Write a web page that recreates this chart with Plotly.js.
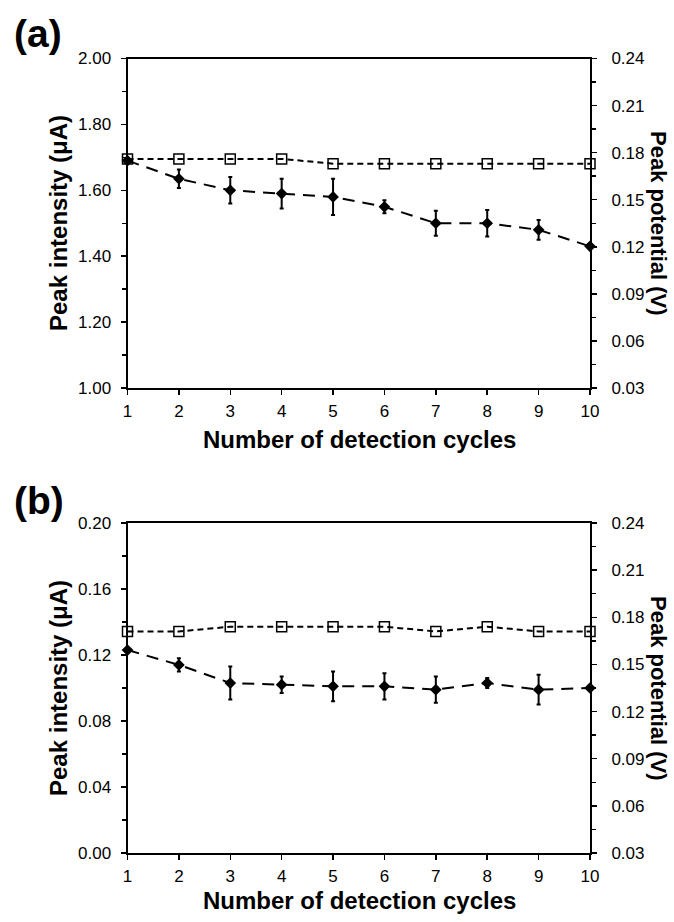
<!DOCTYPE html>
<html>
<head>
<meta charset="utf-8">
<script src="https://cdn.plot.ly/plotly-3.0.1.min.js"></script>
<style>html,body{margin:0;padding:0;background:#fff;}#chart{width:674px;height:922px;}</style>
</head>
<body>
<div id="chart"></div>
<script>
// ---- data ----
const cycles = [1, 2, 3, 4, 5, 6, 7, 8, 9, 10];
const currentA = [1.69, 1.635, 1.60, 1.59, 1.58, 1.55, 1.50, 1.50, 1.48, 1.43];
const currentAErr = [0, 0.028, 0.04, 0.045, 0.055, 0.02, 0.038, 0.04, 0.03, 0];
const potentialA = [0.176, 0.176, 0.176, 0.176, 0.173, 0.173, 0.173, 0.173, 0.173, 0.173];
const currentB = [0.123, 0.114, 0.103, 0.102, 0.101, 0.101, 0.099, 0.103, 0.099, 0.100];
const currentBErr = [0, 0.004, 0.010, 0.005, 0.009, 0.008, 0.008, 0.003, 0.009, 0];
const potentialB = [0.171, 0.171, 0.174, 0.174, 0.174, 0.174, 0.171, 0.174, 0.171, 0.171];

const W = 674, H = 922;
const px = x => x / W;
const py = y => 1 - y / H;
const FONT = "Liberation Sans, Arial, sans-serif";

function currentTrace(y, err, xa, ya) {
  return {
    x: cycles, y: y, xaxis: xa, yaxis: ya, type: 'scatter', mode: 'lines+markers',
    line: {color: '#000', width: 2, dash: '12px,8px'},
    marker: {symbol: 'diamond', size: 9, color: '#000'},
    error_y: {type: 'data', array: err, visible: true, color: '#000', thickness: 2, width: 2},
    cliponaxis: false, showlegend: false
  };
}
function potentialTrace(y, xa, ya) {
  return {
    x: cycles, y: y, xaxis: xa, yaxis: ya, type: 'scatter', mode: 'lines+markers',
    line: {color: '#000', width: 2, dash: '6px,4px'},
    marker: {symbol: 'square-open', size: 10, color: '#000', line: {width: 1.5, color: '#000'}},
    cliponaxis: false, showlegend: false
  };
}

const data = [
  potentialTrace(potentialA, 'x', 'y2'),
  currentTrace(currentA, currentAErr, 'x', 'y'),
  potentialTrace(potentialB, 'x2', 'y4'),
  currentTrace(currentB, currentBErr, 'x2', 'y3')
];

const tickFont = {family: FONT, size: 17, color: '#000'};
const xCommon = {
  range: [1, 10], tickmode: 'array', tickvals: cycles, ticktext: cycles.map(String),
  showline: true, linecolor: '#000', linewidth: 2, mirror: true,
  ticks: 'outside', ticklen: 5, tickwidth: 1.5, tickcolor: '#000',
  showgrid: false, zeroline: false, tickfont: tickFont, fixedrange: true, ticklabelstandoff: 2
};
const xDomain = [px(127.5), px(590)];
const domA = [py(388), py(58.5)];
const domB = [py(853), py(523)];

function leftAxis(range, dtick, minorDtick, domain, anchor) {
  return {
    range: range, dtick: dtick, tick0: range[0], tickformat: '.2f', domain: domain, anchor: anchor,
    showline: true, linecolor: '#000', linewidth: 2,
    ticks: 'outside', ticklen: 5, tickwidth: 1.5, tickcolor: '#000',
    minor: {dtick: minorDtick, ticks: 'outside', ticklen: 4, tickwidth: 1.5, tickcolor: '#000', showgrid: false},
    showgrid: false, zeroline: false, tickfont: tickFont, fixedrange: true, ticklabelstandoff: 6
  };
}
function rightAxis(overlay, anchor) {
  return {
    range: [0.03, 0.24], dtick: 0.03, tick0: 0.03, tickformat: '.2f', overlaying: overlay, side: 'right', anchor: anchor,
    showline: true, linecolor: '#000', linewidth: 2,
    ticks: 'outside', ticklen: 5, tickwidth: 1.5, tickcolor: '#000',
    minor: {dtick: 0.015, ticks: 'outside', ticklen: 4, tickwidth: 1.5, tickcolor: '#000', showgrid: false},
    showgrid: false, zeroline: false, tickfont: tickFont, fixedrange: true, ticklabelstandoff: 11
  };
}

const titleFont = {family: FONT, size: 24, color: '#000', weight: 'bold'};
const rTitleFont = {family: FONT, size: 22, color: '#000', weight: 'bold'};
const labelFont = {family: FONT, size: 39, color: '#000', weight: 'bold'};
function ann(text, x, y, font, angle, xanchor) {
  return {text: text, x: px(x), y: py(y), xref: 'paper', yref: 'paper', showarrow: false,
          font: font, textangle: angle || 0, xanchor: xanchor || 'center', yanchor: 'middle', borderpad: 0};
}

const layout = {
  width: W, height: H, margin: {l: 0, r: 0, t: 0, b: 0},
  paper_bgcolor: '#fff', plot_bgcolor: '#fff', showlegend: false,
  font: {family: FONT, color: '#000'},
  xaxis: Object.assign({}, xCommon, {domain: xDomain, anchor: 'y'}),
  xaxis2: Object.assign({}, xCommon, {domain: xDomain, anchor: 'y3'}),
  yaxis: leftAxis([1.0, 2.0], 0.2, 0.1, domA, 'x'),
  yaxis2: rightAxis('y', 'x'),
  yaxis3: leftAxis([0, 0.2], 0.04, 0.02, domB, 'x2'),
  yaxis4: rightAxis('y3', 'x2'),
  annotations: [
    ann('(a)', 13, 33, labelFont, 0, 'left'),
    ann('(b)', 13, 500, labelFont, 0, 'left'),
    ann('Peak intensity (μA)', 58, 223, titleFont, -90),
    ann('Peak intensity (μA)', 58, 688, titleFont, -90),
    ann('Peak potential (V)', 659, 223, rTitleFont, 90),
    ann('Peak potential (V)', 659, 688, rTitleFont, 90),
    ann('Number of detection cycles', 359, 440, titleFont, 0),
    ann('Number of detection cycles', 359, 900, titleFont, 0)
  ]
};

Plotly.newPlot('chart', data, layout, {staticPlot: true, displayModeBar: false});
</script>
</body>
</html>
